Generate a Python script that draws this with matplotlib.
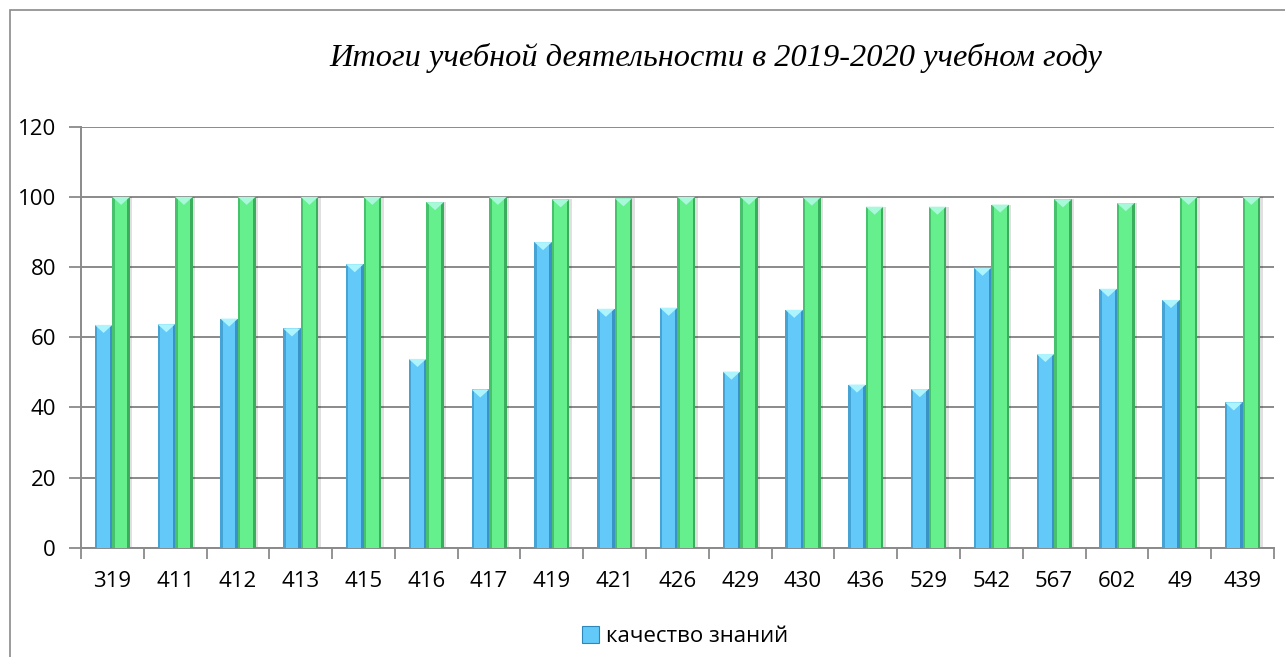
import numpy as np
import matplotlib
matplotlib.use('Agg')
import matplotlib.pyplot as plt
from matplotlib.patches import Patch, Rectangle

# group numbers and results for the year
groups = ['319', '411', '412', '413', '415', '416', '417', '419', '421', '426',
          '429', '430', '436', '529', '542', '567', '602', '49', '439']
quality = [63.5, 63.7, 65.3, 62.5, 80.8, 53.8, 45.1, 87.1, 68.1, 68.4,
           50.2, 67.8, 46.5, 45.2, 79.8, 55.2, 73.8, 70.6, 41.4]
progress = [100, 100, 100, 100, 100, 98.5, 100, 99.3, 99.6, 100,
            100, 99.8, 97.2, 97.2, 97.8, 99.3, 98.2, 100, 100]
yticks = [0, 20, 40, 60, 80, 100, 120]

title = 'Итоги учебной деятельности в 2019-2020 учебном году'
legend_label = 'качество знаний'

plt.rcParams['font.family'] = ['Open Sans', 'DejaVu Sans']

fig = plt.figure(figsize=(12.85, 6.57), dpi=100)
ax = fig.add_axes([0.063, 0.1664, 0.9284, 0.6408])

x = np.arange(len(groups))
w = 0.28


def bar3d(xpos, vals, face, dark, cap):
    # soft drop shadow to the right
    ax.bar(xpos + 0.04, vals, w, color='#000000', alpha=0.12, zorder=2, linewidth=0)
    ax.bar(xpos, vals, w, color=face, zorder=3, linewidth=0)
    # darker side strips
    ax.bar(xpos - w / 2 + w * 0.07, vals, w * 0.14, color=dark, alpha=0.55, zorder=4, linewidth=0)
    ax.bar(xpos + w / 2 - w * 0.07, vals, w * 0.14, color=dark, alpha=0.8, zorder=4, linewidth=0)
    # light bevel cap at the top of each bar
    for xi, v in zip(xpos, vals):
        ax.fill([xi - w / 2, xi + w / 2, xi], [v, v, v - 2.3], color=cap, zorder=5, linewidth=0)


bar3d(x - w / 2, quality, '#62c9f8', '#2f86b8', '#aef4fd')
bar3d(x + w / 2, progress, '#66ef8d', '#2f9e52', '#a8f8da')

ax.set_xlim(-0.5, len(groups) - 0.5)
ax.set_ylim(0, 120)
ax.set_yticks(yticks)
ax.yaxis.grid(True, color='#8a8a8a', linewidth=1.4, zorder=0)
ax.set_axisbelow(True)

ax.set_xticks(np.arange(len(groups) + 1) - 0.5)
ax.set_xticklabels([])
ax.set_xticks(x, minor=True)
ax.set_xticklabels(groups, minor=True)
ax.tick_params(axis='x', which='major', length=8, width=1.3, color='#8a8a8a', direction='out')
ax.tick_params(axis='x', which='minor', length=0, pad=17, labelsize=16)
ax.tick_params(axis='y', length=9, width=1.3, color='#8a8a8a', pad=9, labelsize=16)

for s in ['top', 'right']:
    ax.spines[s].set_visible(False)
for s in ['left', 'bottom']:
    ax.spines[s].set_color('#8a8a8a')
    ax.spines[s].set_linewidth(1.4)

fig.text(0.557, 0.912, title, ha='center', va='center', fontsize=23.3,
         family='Liberation Serif', style='italic')

handle = Patch(facecolor='#62c9f8', edgecolor='#2f86b8', linewidth=0.8)
fig.legend([handle], [legend_label], loc='center', bbox_to_anchor=(0.533, 0.031),
           frameon=False, fontsize=16, handlelength=0.75, handleheight=0.75,
           handletextpad=0.3)

# chart area border
fig.add_artist(Rectangle((10 / 1285, -0.05), 1.2, 1 - 10 / 657 + 0.05,
                         transform=fig.transFigure, fill=False,
                         edgecolor='#8a8a8a', linewidth=1.2))

fig.savefig('out.png', dpi=100)
